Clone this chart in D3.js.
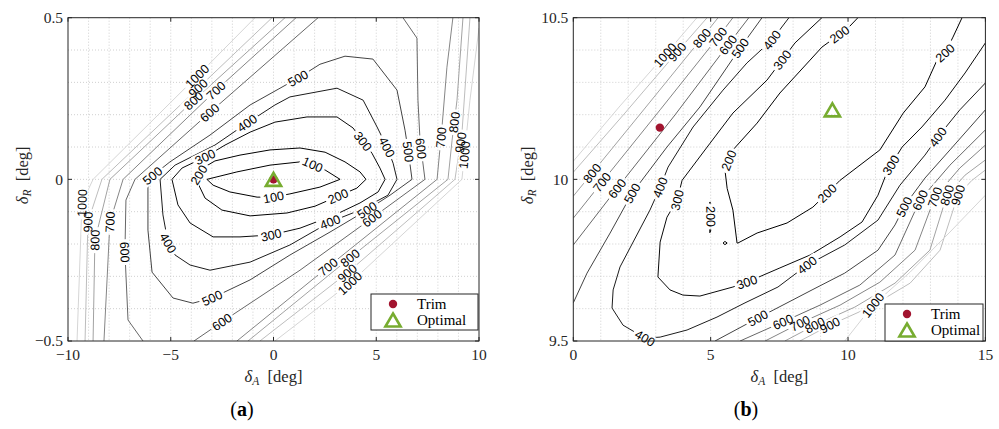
<!DOCTYPE html>
<html><head><meta charset="utf-8">
<script src="https://cdn.jsdelivr.net/npm/d3@7"></script>
<style>body{margin:0;background:#fff}svg{display:block}</style>
</head><body><svg id="c" width="999" height="429"></svg>
<script>
// ---------- DATA ----------
const levels = [100,200,300,400,500,600,700,800,900,1000];
const xTicksA = [-10,-5,0,5,10];
const yTicksA = [-0.5,0,0.5];
const xTicksB = [0,5,10,15];
const yTicksB = [9.5,10,10.5];

// Panel (a) contour polylines [deltaA, deltaR]
const a100 = [[-3.24,0],[-1.78,0.023],[-0.17,0.044],[1.29,0.054],[1.87,0.047],[2.51,0.029],[3.24,0],[2.26,-0.024],[0.80,-0.045],[-0.02,-0.055],[-0.80,-0.055],[-2.12,-0.039],[-2.94,-0.018],[-3.24,0]];
const a200 = [[-3.77,0],[-3.43,0.035],[-2.85,0.057],[-1.63,0.075],[-0.17,0.091],[1.29,0.097],[2.51,0.084],[3.48,0.054],[4.21,0.023],[4.50,0],[4.06,-0.027],[3.14,-0.052],[2.02,-0.083],[0.66,-0.104],[-1.14,-0.113],[-2.51,-0.095],[-3.33,-0.058],[-3.77,0]];
const a300 = [[-4.94,0],[-4.45,0.035],[-3.33,0.069],[-2.36,0.106],[-1.14,0.146],[0.07,0.177],[1.63,0.193],[3.09,0.193],[3.87,0.159],[4.31,0.121],[4.79,0.081],[5.18,0.035],[5.43,0],[5.09,-0.039],[4.21,-0.073],[2.99,-0.110],[1.29,-0.151],[-0.12,-0.172],[-1.63,-0.178],[-2.94,-0.178],[-4.06,-0.135],[-4.65,-0.079],[-4.94,0]];
const a400 = [[-5.52,0],[-4.79,0.044],[-2.85,0.106],[-1.29,0.174],[0.07,0.230],[0.80,0.255],[3.09,0.282],[4.36,0.245],[5.04,0.162],[5.52,0.100],[5.82,0.050],[6.01,0],[5.57,-0.049],[4.21,-0.095],[2.75,-0.132],[0.80,-0.203],[-1.14,-0.256],[-3.09,-0.281],[-4.06,-0.265],[-4.79,-0.234],[-5.13,-0.197],[-5.38,-0.110],[-5.52,0]];
const a500 = [[-6.11,0],[-5.04,0.054],[-3.09,0.137],[-1.14,0.230],[1.19,0.313],[2.26,0.356],[3.48,0.381],[4.84,0.372],[6.01,0.276],[6.40,0.152],[6.55,0.091],[6.74,0],[5.67,-0.049],[4.55,-0.095],[2.75,-0.163],[0.80,-0.234],[-1.14,-0.311],[-2.99,-0.367],[-3.92,-0.383],[-4.89,-0.367],[-5.91,-0.287],[-6.11,-0.157],[-6.11,0]];
const a600u = [[-6.35,-0.5],[-7.08,-0.435],[-7.23,-0.225],[-7.18,-0.064],[-6.74,0],[-3.24,0.199],[2.17,0.5]];
const a600l = [[6.30,0.5],[6.98,0.437],[7.03,0.245],[7.13,0.121],[7.37,0],[4.79,-0.120],[1.29,-0.281],[-2.51,-0.441],[-3.87,-0.5]];
const a700u = [[-8.25,-0.5],[-8.10,-0.311],[-7.96,-0.132],[-7.32,0],[-2.94,0.267],[1.1,0.5]];
const a700l = [[8.73,0.5],[8.44,0.347],[8.20,0.162],[7.96,0],[2.65,-0.271],[-1.78,-0.5]];
const a800u = [[-8.78,-0.5],[-8.69,-0.188],[-7.96,0],[-3.97,0.239],[0.56,0.5]];
const a800l = [[9.22,0.5],[8.93,0.245],[8.69,0.121],[8.49,0],[3.72,-0.243],[-1.24,-0.5]];
const a900u = [[-9.17,-0.5],[-9.03,-0.132],[-8.35,0],[-3.67,0.282],[-0.07,0.5]];
const a900l = [[9.56,0.5],[9.17,0.143],[8.83,0],[3.58,-0.290],[-0.66,-0.5]];
const a1000u = [[-9.56,-0.5],[-9.32,-0.073],[-8.78,0],[-3.67,0.322],[-0.90,0.5]];
const a1000l = [[10,0.468],[9.56,0.245],[9.17,0],[3.72,-0.321],[0.07,-0.5]];

// Panel (a) contour labels [level, deltaA, deltaR]
const labelsA = [
  [100,1.87,0.041],[100,0,-0.055],
  [200,-3.87,0.023],[200,3.14,-0.052],
  [300,-3.33,0.069],[300,4.4,0.12],[300,-0.12,-0.172],
  [400,-1.29,0.174],[400,5.52,0.1],[400,-5.13,-0.197],[400,2.75,-0.132],
  [500,-6.0,0.02],[500,1.19,0.313],[500,6.5,0.085],[500,4.55,-0.095],[500,-2.99,-0.367],
  [600,-3.09,0.205],[600,-7.23,-0.225],[600,7.1,0.095],[600,4.79,-0.12],[600,-2.51,-0.441],
  [700,-2.51,0.255],[700,-7.96,-0.132],[700,8.1,0.13],[700,2.65,-0.271],
  [800,-3.92,0.245],[800,-8.69,-0.188],[800,8.75,0.177],[800,3.72,-0.243],
  [900,-3.67,0.282],[900,-9.03,-0.132],[900,9.0,0.115],[900,3.58,-0.29],
  [1000,-3.67,0.316],[1000,-9.32,-0.073],[1000,9.4,0.075],[1000,3.72,-0.321]
];

// Panel (b) contour polylines [deltaA, deltaR]
const b200 = [[10.36,10.5],[10.0,10.468],[9.05,10.409],[8.62,10.369],[7.52,10.267],[6.69,10.174],[5.81,10.091],[5.52,10.029],[5.60,9.972],[5.81,9.905],[5.96,9.803],[5.99,9.803],[6.69,9.834],[7.78,9.865],[8.72,9.914],[9.24,9.957],[9.71,9.997],[11.16,10.091],[12.01,10.205],[12.80,10.286],[13.24,10.369],[13.53,10.391],[13.82,10.44],[14.15,10.5]];
const b200island = [[4.97,9.93],[5.0,9.925],[5.01,9.88],[5.0,9.84],[4.97,9.835],[4.96,9.88],[4.97,9.93]];
const b200loop = [[5.45,9.803],[5.52,9.808],[5.6,9.803],[5.52,9.798],[5.45,9.803]];
const b300 = [[9.05,10.5],[8.07,10.422],[7.05,10.307],[5.81,10.205],[4.98,10.112],[3.96,9.997],[3.78,9.936],[3.41,9.883],[3.16,9.806],[3.08,9.698],[3.52,9.658],[3.99,9.642],[4.61,9.639],[5.81,9.667],[6.32,9.682],[7.52,9.726],[8.62,9.766],[9.71,9.822],[10.51,9.868],[11.09,9.951],[11.45,10.029],[11.97,10.1],[12.69,10.162],[13.53,10.245],[14.26,10.329],[15,10.422]];
const b400 = [[7.85,10.5],[7.23,10.431],[6.32,10.36],[5.45,10.276],[4.36,10.162],[3.45,10.038],[3.16,9.975],[2.79,9.905],[1.70,9.729],[1.45,9.658],[1.41,9.602],[1.81,9.549],[2.61,9.509],[3.16,9.512],[4.14,9.534],[5.23,9.574],[6.25,9.618],[7.45,9.667],[8.51,9.735],[9.88,9.797],[11.09,9.874],[11.89,9.982],[12.80,10.075],[13.27,10.131],[14.07,10.215],[15,10.298]];
const b500u = [[0,9.618],[0.50,9.71],[1.34,9.834],[2.14,9.957],[3.41,10.1],[4.61,10.224],[6.07,10.406],[6.87,10.5]];
const b500l = [[5.16,9.5],[6.72,9.571],[8.69,9.658],[9.88,9.71],[11.09,9.781],[11.71,9.859],[12.08,9.921],[12.80,10.004],[13.71,10.091],[15,10.215]];
const b600u = [[0,9.797],[1.59,9.972],[3.70,10.199],[5.63,10.416],[6.39,10.5]];
const b600l = [[6.07,9.5],[7.63,9.559],[8.98,9.611],[10.43,9.673],[11.71,9.766],[12.62,9.936],[13.71,10.044],[15,10.153]];
const b700u = [[0,9.88],[1.04,9.991],[3.16,10.215],[5.27,10.44],[5.81,10.5]];
const b700l = [[6.98,9.5],[8.25,9.555],[9.71,9.611],[11.16,9.682],[12.44,9.781],[13.16,9.945],[14.07,10.035],[15,10.106]];
const b800u = [[0,9.948],[0.68,10.019],[2.79,10.239],[4.68,10.437],[5.27,10.5]];
const b800l = [[7.70,9.5],[8.79,9.549],[10.25,9.605],[11.71,9.679],[12.98,9.781],[13.60,9.951],[14.26,10.013],[15,10.06]];
const b900u = [[0,10.022],[1.88,10.205],[3.78,10.394],[4.87,10.5]];
const b900l = [[8.25,9.5],[9.34,9.549],[10.80,9.605],[12.26,9.679],[13.35,9.781],[14.0,9.951],[14.51,9.997],[15,10.029]];
const b1000u = [[0,10.056],[1.70,10.227],[3.34,10.385],[4.50,10.5]];
const b1000l = [[9.88,9.5],[10.91,9.611],[12.26,9.713],[13.71,9.837],[15,9.951]];

// Panel (b) contour labels [level, deltaA, deltaR]
const labelsB = [
  [1000,3.34,10.385],[1000,10.91,9.611],
  [900,3.78,10.394],[900,9.34,9.549],[900,14.0,9.951],
  [800,0.68,10.019],[800,4.68,10.437],[800,8.79,9.549],[800,13.6,9.951],
  [700,1.04,9.991],[700,5.27,10.44],[700,8.25,9.555],[700,13.16,9.945],
  [600,1.59,9.972],[600,5.63,10.416],[600,7.63,9.559],[600,12.62,9.936],
  [500,2.14,9.957],[500,6.07,10.406],[500,6.72,9.571],[500,11.9,9.921],
  [400,3.16,9.975],[400,7.23,10.431],[400,2.61,9.509],[400,8.51,9.735],[400,13.27,10.131],
  [300,3.78,9.936],[300,7.6,10.37],[300,6.32,9.682],[300,11.45,10.05],
  [200,5.62,10.06],[200,9.71,10.446],[200,9.24,9.957],[200,13.53,10.391],[200,5.02,9.885]
];

// Markers
const trimA = [0,0], optimalA = [0,0];
const trimB = [3.15,10.16], optimalB = [9.43,10.215];
const legendNames = ['Trim','Optimal'];

// ---------- STYLE ----------
const levelColor = {100:'#000',200:'#000',300:'#0a0a0a',400:'#1c1c1c',500:'#434343',600:'#676767',700:'#858585',800:'#a2a2a2',900:'#bdbdbd',1000:'#d5d5d5'};
const trimColor = '#a2142f', optColor = '#77ac30';
const serif = "'Liberation Serif','DejaVu Serif',serif";
const sans = "'Liberation Sans',Arial,Helvetica,sans-serif";

const svg = d3.select('#c');
svg.append('rect').attr('width',999).attr('height',429).attr('fill','#fff');
const defs = svg.append('defs');

function fmt(v){ return (v<0?'\u2212':'') + Math.abs(v); }

function drawPanel(cfg){
  const x = d3.scaleLinear().domain(cfg.xDomain).range([cfg.left,cfg.right]);
  const y = d3.scaleLinear().domain(cfg.yDomain).range([cfg.bottom,cfg.top]);
  const g = svg.append('g');
  const id = cfg.id;
  defs.append('clipPath').attr('id','clip'+id).append('rect')
    .attr('x',cfg.left).attr('y',cfg.top).attr('width',cfg.right-cfg.left).attr('height',cfg.bottom-cfg.top);

  // grid (minor dotted)
  const grid = g.append('g').attr('stroke','#c4c4c4').attr('stroke-width',0.8).attr('stroke-dasharray','1,2');
  const nx = Math.round((cfg.xDomain[1]-cfg.xDomain[0])/cfg.xMinor);
  for(let i=1;i<nx;i++){ const v=cfg.xDomain[0]+i*cfg.xMinor;
    grid.append('line').attr('x1',x(v)).attr('x2',x(v)).attr('y1',cfg.top).attr('y2',cfg.bottom); }
  const ny = Math.round((cfg.yDomain[1]-cfg.yDomain[0])/cfg.yMinor);
  for(let i=1;i<ny;i++){ const v=cfg.yDomain[0]+i*cfg.yMinor;
    grid.append('line').attr('y1',y(v)).attr('y2',y(v)).attr('x1',cfg.left).attr('x2',cfg.right); }

  // mask for label gaps
  const mask = defs.append('mask').attr('id','mask'+id).attr('maskUnits','userSpaceOnUse')
    .attr('x',0).attr('y',0).attr('width',999).attr('height',429);
  mask.append('rect').attr('width',999).attr('height',429).attr('fill','#fff');

  const line = d3.line().x(d=>x(d[0])).y(d=>y(d[1]));
  const cg = g.append('g').attr('clip-path','url(#clip'+id+')').append('g').attr('mask','url(#mask'+id+')');
  cfg.contours.forEach(([lev,pts])=>{
    cg.append('path').attr('d',line(pts)).attr('fill','none')
      .attr('stroke',levelColor[lev]).attr('stroke-width',1).attr('stroke-linejoin','round');
  });

  // labels, snapped to the nearest contour of the same level
  const lg = g.append('g').attr('font-family',sans).attr('font-size','12.5px').attr('fill','#000');
  cfg.labels.forEach(([lev,lx,ly])=>{
    const px=x(lx), py=y(ly);
    let best={d:1e9,qx:px,qy:py,ang:0};
    cfg.contours.filter(c=>c[0]===lev).forEach(([,pts])=>{
      for(let i=0;i<pts.length-1;i++){
        const ax=x(pts[i][0]),ay=y(pts[i][1]),bx=x(pts[i+1][0]),by=y(pts[i+1][1]);
        const dx=bx-ax,dy=by-ay,L=dx*dx+dy*dy; if(L===0) continue;
        let t=((px-ax)*dx+(py-ay)*dy)/L; t=Math.max(0,Math.min(1,t));
        const qx=ax+t*dx,qy=ay+t*dy,d=Math.hypot(px-qx,py-qy);
        if(d<best.d){ let ang=Math.atan2(dy,dx)*180/Math.PI; if(ang>90)ang-=180; if(ang<=-90)ang+=180;
          best={d,qx,qy,ang}; }
      }
    });
    const tr=`translate(${best.qx},${best.qy}) rotate(${best.ang})`;
    const t=lg.append('text').attr('transform',tr).attr('text-anchor','middle').attr('dy','0.36em').text(lev);
    const w=t.node().getComputedTextLength();
    mask.append('rect').attr('transform',tr).attr('x',-w/2-2.5).attr('y',-6).attr('width',w+5).attr('height',12).attr('fill','#000');
  });

  // markers
  const mk = g.append('g');
  mk.append('circle').attr('cx',x(cfg.trim[0])).attr('cy',y(cfg.trim[1])).attr('r',4.2).attr('fill',trimColor);
  mk.append('path').attr('transform',`translate(${x(cfg.opt[0])},${y(cfg.opt[1])})`)
    .attr('d','M0,-6.5L7.6,6.5L-7.6,6.5Z').attr('fill','none').attr('stroke',optColor).attr('stroke-width',2.6).attr('stroke-linejoin','miter');

  // box + ticks
  const ax = g.append('g').attr('stroke','#262626').attr('stroke-width',1).attr('fill','none');
  ax.append('rect').attr('x',cfg.left).attr('y',cfg.top).attr('width',cfg.right-cfg.left).attr('height',cfg.bottom-cfg.top);
  cfg.xTicks.forEach(v=>{
    ax.append('line').attr('x1',x(v)).attr('x2',x(v)).attr('y1',cfg.bottom).attr('y2',cfg.bottom-4);
    ax.append('line').attr('x1',x(v)).attr('x2',x(v)).attr('y1',cfg.top).attr('y2',cfg.top+4);
  });
  cfg.yTicks.forEach(v=>{
    ax.append('line').attr('y1',y(v)).attr('y2',y(v)).attr('x1',cfg.left).attr('x2',cfg.left+4);
    ax.append('line').attr('y1',y(v)).attr('y2',y(v)).attr('x1',cfg.right).attr('x2',cfg.right-4);
  });
  const tl = g.append('g').attr('font-family',serif).attr('font-size','15.5px').attr('fill','#262626');
  cfg.xTicks.forEach(v=>{ tl.append('text').attr('x',x(v)).attr('y',cfg.bottom+19).attr('text-anchor','middle').text(fmt(v)); });
  cfg.yTicks.forEach(v=>{ tl.append('text').attr('x',cfg.left-5).attr('y',y(v)).attr('dy','0.35em').attr('text-anchor','end').text(fmt(v)); });

  // axis labels
  const xl = g.append('text').attr('font-family',serif).attr('font-size','16.5px').attr('fill','#262626')
    .attr('x',(cfg.left+cfg.right)/2).attr('y',382).attr('text-anchor','middle');
  xl.append('tspan').attr('font-style','italic').text('\u03b4');
  xl.append('tspan').attr('font-style','italic').attr('font-size','11.5px').attr('dy',3).text('A');
  xl.append('tspan').attr('dy',-3).text('\u2002[deg]');
  const yl = g.append('text').attr('font-family',serif).attr('font-size','16.5px').attr('fill','#262626')
    .attr('transform',`translate(${cfg.left-40},${(cfg.top+cfg.bottom)/2-4}) rotate(-90)`).attr('text-anchor','middle');
  yl.append('tspan').attr('font-style','italic').text('\u03b4');
  yl.append('tspan').attr('font-style','italic').attr('font-size','11.5px').attr('dy',3).text('R');
  yl.append('tspan').attr('dy',-3).text('\u2002[deg]');

  // panel tag
  const pt = g.append('text').attr('font-family',serif).attr('font-size','20px').attr('fill','#000')
    .attr('x',cfg.tagX).attr('y',416).attr('text-anchor','middle');
  pt.append('tspan').text('(');
  pt.append('tspan').attr('font-weight','bold').text(cfg.tag);
  pt.append('tspan').text(')');

  // legend
  const L = cfg.legend;
  const lgd = g.append('g');
  lgd.append('rect').attr('x',L.x).attr('y',L.y).attr('width',L.w).attr('height',L.h).attr('fill','#fff').attr('stroke','#262626').attr('stroke-width',1);
  lgd.append('circle').attr('cx',L.x+22).attr('cy',L.y+10).attr('r',4.2).attr('fill',trimColor);
  lgd.append('path').attr('transform',`translate(${L.x+22},${L.y+26})`).attr('d','M0,-6.5L7.6,6.5L-7.6,6.5Z').attr('fill','none').attr('stroke',optColor).attr('stroke-width',2.6);
  legendNames.forEach((n,i)=>{
    lgd.append('text').attr('x',L.x+46).attr('y',L.y+10+16*i).attr('dy','0.35em').attr('font-family',serif).attr('font-size','15px').attr('fill','#000').text(n);
  });
}

drawPanel({id:'A', left:68, right:479, top:17.7, bottom:341, xDomain:[-10,10], yDomain:[-0.5,0.5], xMinor:1, yMinor:0.1,
  xTicks:xTicksA, yTicks:yTicksA, trim:trimA, opt:optimalA, tag:'a', tagX:242,
  legend:{x:371,y:294,w:107,h:36},
  contours:[[100,a100],[200,a200],[300,a300],[400,a400],[500,a500],[600,a600u],[600,a600l],[700,a700u],[700,a700l],[800,a800u],[800,a800l],[900,a900u],[900,a900l],[1000,a1000u],[1000,a1000l]],
  labels:labelsA});
drawPanel({id:'B', left:573.3, right:985.4, top:17.7, bottom:341, xDomain:[0,15], yDomain:[9.5,10.5], xMinor:1, yMinor:0.1,
  xTicks:xTicksB, yTicks:yTicksB, trim:trimB, opt:optimalB, tag:'b', tagX:746,
  legend:{x:885,y:304,w:98,h:37},
  contours:[[200,b200],[200,b200island],[200,b200loop],[300,b300],[400,b400],[500,b500u],[500,b500l],[600,b600u],[600,b600l],[700,b700u],[700,b700l],[800,b800u],[800,b800l],[900,b900u],[900,b900l],[1000,b1000u],[1000,b1000l]],
  labels:labelsB});
</script></body></html>
